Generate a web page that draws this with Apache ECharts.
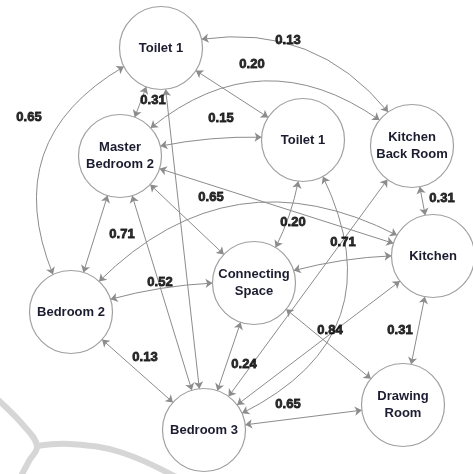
<!DOCTYPE html>
<html>
<head>
<meta charset="utf-8">
<script src="https://cdn.jsdelivr.net/npm/echarts@6/dist/echarts.min.js"></script>
<style>
html, body { margin: 0; padding: 0; background: #fff; }
#chart { width: 473px; height: 474px; }
</style>
</head>
<body>
<div id="chart"></div>
<script>
// rooms (nodes)
var roomIds = ['t1a', 'mb2', 't1b', 'kbr', 'kit', 'cs', 'b2', 'dr', 'b3'];
var roomNames = ['Toilet 1', 'Master\nBedroom 2', 'Toilet 1', 'Kitchen\nBack Room', 'Kitchen',
    'Connecting\nSpace', 'Bedroom 2', 'Drawing\nRoom', 'Bedroom 3'];
var roomX = [161, 120, 303, 412, 433, 254, 71, 403, 204];
var roomY = [48, 156, 140, 146, 256, 283, 312, 405, 430];

// connections between rooms and their weights (null = no label)
var linkFrom = [0, 0, 0, 0, 0, 1, 1, 1, 1, 1, 1, 6, 6, 6, 2, 2, 3, 3, 4, 4, 4, 5, 5, 8];
var linkTo   = [1, 6, 3, 2, 8, 2, 3, 4, 5, 6, 8, 4, 5, 8, 5, 8, 4, 8, 5, 7, 8, 7, 8, 7];
var weights  = [0.31, 0.65, 0.13, 0.20, null, 0.15, null, null, 0.65, 0.71, 0.52, null, null, 0.13,
    0.20, null, 0.31, null, 0.71, 0.31, null, 0.84, 0.24, 0.65];

// drawing details
var linkCurve = [0, -0.55, 0.38, 0, 0, 0.1, 0.48, 0, 0, 0, 0, 0.44, 0.1, 0,
    0.15, 0.6, 0, 0, -0.1, 0, 0, 0, 0, 0];
var weightX = [153, 29, 288, 252, null, 221, null, null, 211, 122, 160, null, null, 145,
    293, null, 442, null, 343, 400, null, 330, 244, 288];
var weightY = [100, 117, 40, 64, null, 118, null, null, 197, 234, 282, null, null, 357,
    222, null, 198, null, 242, 330, null, 330, 364, 404];

var nodes = roomIds.map(function (id, i) {
    return { id: id, name: roomNames[i], value: [roomX[i], roomY[i]] };
});
var links = linkFrom.map(function (s, i) {
    return { source: s, target: linkTo[i], lineStyle: { curveness: linkCurve[i] } };
});
var weightLabels = [];
weights.forEach(function (w, i) {
    if (w != null) weightLabels.push({ value: [weightX[i], weightY[i]], label: { formatter: w.toFixed(2) } });
});

var chart = echarts.init(document.getElementById('chart'));
chart.setOption({
    backgroundColor: '#fff',
    animation: false,
    grid: { left: 0, right: 0, top: 0, bottom: 0 },
    xAxis: { type: 'value', min: 0, max: 473, show: false },
    yAxis: { type: 'value', min: 0, max: 474, inverse: true, show: false },
    graphic: [
        {
            type: 'polyline', z: -10, silent: true,
            shape: { points: [[-4, 398], [24, 426], [37, 446], [29, 461], [20, 478]], smooth: 0.4 },
            style: { stroke: '#d6d6d6', lineWidth: 6, fill: null }
        },
        {
            type: 'polyline', z: -10, silent: true,
            shape: { points: [[37, 446], [70, 444], [120, 452], [178, 478]], smooth: 0.4 },
            style: { stroke: '#d6d6d6', lineWidth: 6, fill: null }
        }
    ],
    series: [
        {
            type: 'graph',
            coordinateSystem: 'cartesian2d',
            symbol: 'circle',
            symbolSize: 83,
            edgeSymbol: ['arrow', 'arrow'],
            edgeSymbolSize: 7,
            itemStyle: { color: '#fff', borderColor: '#a0a0a0', borderWidth: 1.2 },
            lineStyle: { color: '#8c8c8c', width: 1, opacity: 1 },
            label: {
                show: true,
                position: 'inside',
                formatter: '{b}',
                color: '#1c1c30',
                fontFamily: 'Liberation Sans',
                fontSize: 13,
                fontWeight: 'bold',
                lineHeight: 17
            },
            emphasis: { disabled: true },
            data: nodes,
            links: links,
            z: 2
        },
        {
            type: 'scatter',
            symbolSize: 0,
            silent: true,
            label: {
                show: true,
                position: 'inside',
                color: '#000',
                fontFamily: 'Liberation Sans',
                fontSize: 13,
                fontWeight: 'bold',
                textBorderColor: '#000',
                textBorderWidth: 0.8
            },
            data: weightLabels,
            z: 3
        }
    ]
});
</script>
</body>
</html>
